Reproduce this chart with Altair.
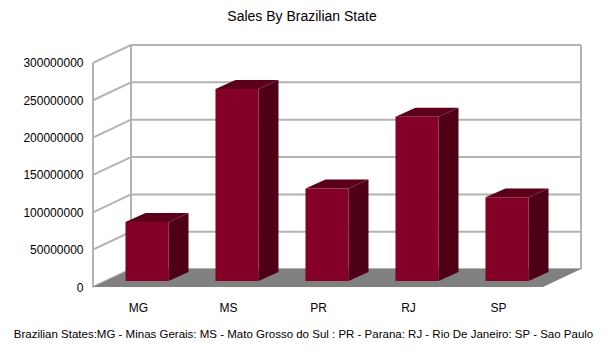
import altair as alt
import pandas as pd

# ---- data ----
states = ["MG", "MS", "PR", "RJ", "SP"]
sales = [79000000, 257000000, 124000000, 220000000, 112000000]
y_ticks = [0, 50000000, 100000000, 150000000, 200000000, 250000000, 300000000]
chart_title = "Sales By Brazilian State"
footnote = ("Brazilian States:MG - Minas Gerais: MS - Mato Grosso do Sul : "
            "PR - Parana: RJ - Rio De Janeiro: SP - Sao Paulo")

# ---- 3D geometry in scale units ----
N = len(states)
DEPTH_X = 38 / 90          # depth of the box (category units)
DEPTH_Y = 24000000         # depth of the box (value units)
BAR_W = 0.478
BAR_DX = 0.1
BAR_DY = 8000000
BAR_DEPTH_X = 0.222
BAR_DEPTH_Y = 12000000
X_MAX = N + DEPTH_X
Y_MAX = max(y_ticks) + DEPTH_Y

FONT = "Liberation Sans"
GRID = "#b3b3b3"
FRONT = "#850026"
SIDE = "#4e0016"
TOP = "#5c001a"
FLOOR = "#808080"

xs = alt.Scale(domain=[0, X_MAX], nice=False, zero=False)
ys = alt.Scale(domain=[0, Y_MAX], nice=False, zero=False)

# back wall horizontal grid lines
back_df = pd.DataFrame({"x": [DEPTH_X] * len(y_ticks), "x2": [X_MAX] * len(y_ticks),
                        "y": [t + DEPTH_Y for t in y_ticks]})
back = alt.Chart(back_df).mark_rule(color=GRID, strokeWidth=2).encode(
    x=alt.X("x:Q", scale=xs, axis=None), x2="x2:Q",
    y=alt.Y("y:Q", scale=ys, axis=None))

# vertical frame lines
vert_df = pd.DataFrame({"x": [0, DEPTH_X, X_MAX],
                        "y": [0, DEPTH_Y, DEPTH_Y],
                        "y2": [max(y_ticks), Y_MAX, Y_MAX]})
vert = alt.Chart(vert_df).mark_rule(color=GRID, strokeWidth=2).encode(
    x=alt.X("x:Q", scale=xs, axis=None),
    y=alt.Y("y:Q", scale=ys,
            axis=alt.Axis(values=y_ticks, format="d", title=None, domain=False,
                          ticks=False, grid=False, labelPadding=10, labelFontSize=12,
                          labelFont=FONT, labelColor="#000000")),
    y2="y2:Q")

# left wall diagonal lines
diag_rows = []
for t in y_ticks:
    diag_rows.append({"x": 0, "y": t, "k": t})
    diag_rows.append({"x": DEPTH_X, "y": t + DEPTH_Y, "k": t})
diag = alt.Chart(pd.DataFrame(diag_rows)).mark_line(color=GRID, strokeWidth=2).encode(
    x=alt.X("x:Q", scale=xs, axis=None),
    y=alt.Y("y:Q", scale=ys, axis=None), detail="k:N")

# floor
floor_df = pd.DataFrame({"y": [0, DEPTH_Y], "x": [0, DEPTH_X], "x2": [N, X_MAX]})
label_expr = "[" + ",".join("'%s'" % s for s in states) + "][floor(datum.value)]"
floor = alt.Chart(floor_df).mark_area(orient="horizontal", color=FLOOR, opacity=1).encode(
    y=alt.Y("y:Q", scale=ys, axis=None),
    x=alt.X("x:Q", scale=xs,
            axis=alt.Axis(values=[i + 0.5 for i in range(N)], labelExpr=label_expr,
                          title=footnote, titleFont=FONT, titleFontSize=11.5,
                          titleFontWeight="normal", titleColor="#000000",
                          titleX=210, titleY=41, titleAnchor="middle",
                          domain=False, ticks=False, grid=False, labelPadding=15,
                          labelFont=FONT, labelFontSize=12, labelColor="#000000")),
    x2="x2:Q")

# bars
front_rows, side_rows, top_rows = [], [], []
for i, (s, v) in enumerate(zip(states, sales)):
    l = i + 0.5 - BAR_W / 2 + BAR_DX
    r = l + BAR_W
    front_rows.append({"s": s, "x": l, "x2": r, "y": BAR_DY, "y2": BAR_DY + v})
    side_rows.append({"s": s, "x": r, "y": BAR_DY + v, "y2": BAR_DY})
    side_rows.append({"s": s, "x": r + BAR_DEPTH_X, "y": BAR_DY + v + BAR_DEPTH_Y,
                      "y2": BAR_DY + BAR_DEPTH_Y})
    top_rows.append({"s": s, "y": BAR_DY + v, "x": l, "x2": r})
    top_rows.append({"s": s, "y": BAR_DY + v + BAR_DEPTH_Y, "x": l + BAR_DEPTH_X,
                     "x2": r + BAR_DEPTH_X})

fronts = alt.Chart(pd.DataFrame(front_rows)).mark_rect(color=FRONT).encode(
    x=alt.X("x:Q", scale=xs, axis=None), x2="x2:Q",
    y=alt.Y("y:Q", scale=ys, axis=None), y2="y2:Q")
sides = alt.Chart(pd.DataFrame(side_rows)).mark_area(orient="vertical", color=SIDE,
                                                     opacity=1).encode(
    x=alt.X("x:Q", scale=xs, axis=None),
    y=alt.Y("y:Q", scale=ys, axis=None), y2="y2:Q", detail="s:N")
tops = alt.Chart(pd.DataFrame(top_rows)).mark_area(orient="horizontal", color=TOP,
                                                   opacity=1).encode(
    y=alt.Y("y:Q", scale=ys, axis=None),
    x=alt.X("x:Q", scale=xs, axis=None), x2="x2:Q", detail="s:N")

chart = alt.layer(back, diag, vert, floor, sides, tops, fronts).resolve_axis(
    x="independent", y="independent"
).properties(
    width=488, height=242,
    title=alt.TitleParams(chart_title, font=FONT, fontSize=14, fontWeight="normal",
                          color="#000000", anchor="middle", dx=-35, dy=-13),
    autosize=alt.AutoSizeParams(type="none"),
    padding={"left": 93, "top": 45, "right": 29, "bottom": 72},
    background="#ffffff",
).configure_view(stroke=None)

chart.save("out.html", embed_options={"renderer": "svg", "actions": False})
